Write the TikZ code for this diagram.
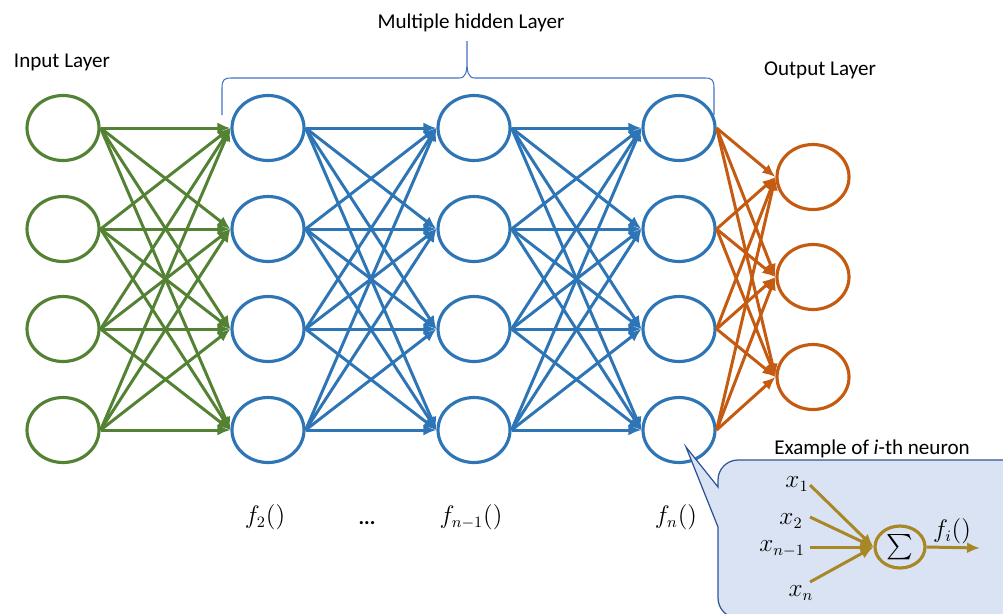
\documentclass[tikz,border=0pt]{standalone}
\usepackage{amsmath}
\usepackage{fontspec}
\setmainfont{Carlito}
\usetikzlibrary{positioning}
\usetikzlibrary{arrows.meta}
\usetikzlibrary{shapes.geometric}
\definecolor{ngreen}{RGB}{84,130,53}
\definecolor{nblue}{RGB}{46,117,182}
\definecolor{norange}{RGB}{197,90,17}
\definecolor{ngold}{RGB}{168,136,38}
\definecolor{nfill}{RGB}{218,227,243}
\definecolor{nline}{RGB}{47,85,151}
\definecolor{nbrace}{RGB}{68,114,196}

\begin{document}
\begin{tikzpicture}[x=0.02cm, y=-0.02cm, >={Latex[length=2.6mm,width=2.2mm]},
    font=\fontsize{12}{14}\selectfont,
    neuron/.style={draw, ellipse, line width=1.8pt, minimum width=1.44cm, minimum height=1.3cm, inner sep=0pt},
    link/.style={->, line width=1.7pt},
    mathlabel/.style={font=\fontsize{13.5}{15}\selectfont}]
    \useasboundingbox (0,0) rectangle (1003,613);
    % the four layers of neurons
    \foreach \r/\y in {1/128,2/229,3/329,4/430} {
        \node[neuron, ngreen] (i\r) at (63,\y) {};
        \node[neuron, nblue] (h1-\r) at (268,\y) {};
        \node[neuron, nblue] (h2-\r) at (474,\y) {};
        \node[neuron, nblue] (h3-\r) at (679,\y) {};
    }
    \foreach \r/\y in {1/177,2/277,3/377}
        \node[neuron, norange] (o\r) at (813,\y) {};
    \foreach \a in {1,...,4} {
        \foreach \b in {1,...,4} {
            \draw[link, ngreen] (i\a.east) -- (h1-\b.west);
            \draw[link, nblue] (h1-\a.east) -- (h2-\b.west);
            \draw[link, nblue] (h2-\a.east) -- (h3-\b.west);
        }
        \foreach \b in {1,2,3}
            \draw[link, norange] (h3-\a.east) -- (o\b.west);
    }
    % layer names
    \node (inname) at (62,62) {Input Layer};
    \node (outname) at (820,70) {Output Layer};
    \node (hidname) at (471,23) {Multiple hidden Layer};
    \draw[nbrace, line width=0.6pt] (222,115) -- (222,88) .. controls (222,80) and (224,78) .. (231,78)
        -- (459,78) .. controls (466,78) and (467,72) .. (467,60) -- (467,41)
        -- (467,60) .. controls (467,72) and (468,78) .. (475,78)
        -- (705,78) .. controls (712,78) and (714,80) .. (714,88) -- (714,115);
    \node[mathlabel] (f2) at (265,517) {$f_2()$};
    \node (dots) at (367,523) {\textbf{...}};
    \node[mathlabel] (fn1) at (471,517) {$f_{n-1}()$};
    \node[mathlabel] (fn) at (676,517) {$f_n()$};
    % callout with one neuron
    \begin{scope}
        \clip (0,0) rectangle (1003,613);
        \draw[nline, fill=nfill, line width=0.7pt] (718,527) -- (686,447) -- (718,487)
            [rounded corners=0.4cm] -- (718,460) -- (1040,460) -- (1040,618) -- (718,618) -- (718,527);
    \end{scope}
    \node (example) at (872,449) {Example of \textit{i}-th neuron};
    \node[draw=ngold, ellipse, line width=1.8pt, minimum width=1cm, minimum height=0.84cm, inner sep=-4pt,
        font=\fontsize{14}{16}\selectfont] (sum) at (900,547) {$\sum$};
    \node[mathlabel] (x1) at (797,484) {$x_1$};
    \node[mathlabel] (x2) at (791,521) {$x_2$};
    \node[mathlabel] (xn1) at (782,549) {$x_{n-1}$};
    \node[mathlabel] (xn) at (801,593) {$x_n$};
    \coordinate (s1) at (810,485);
    \coordinate (s2) at (810,517);
    \coordinate (s3) at (810,547);
    \coordinate (s4) at (810,582);
    \coordinate (fout) at (980,548);
    \foreach \s in {1,...,4}
        \draw[link, ngold] (s\s) -- (sum.west);
    \draw[link, ngold] (sum.east) -- (fout);
    \node[mathlabel] (fi) at (952,531) {$f_i()$};
\end{tikzpicture}
\end{document}
